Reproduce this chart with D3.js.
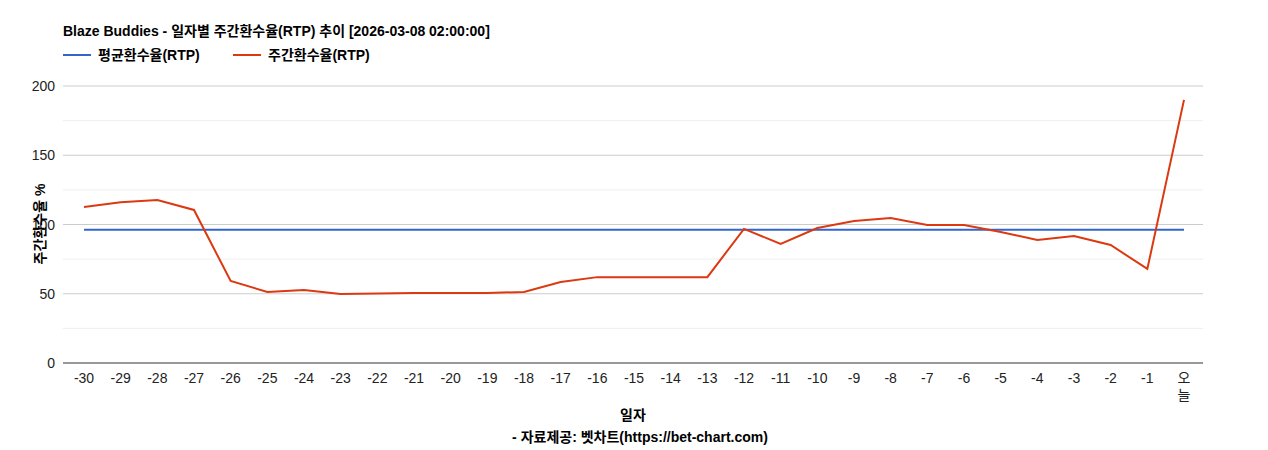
<!DOCTYPE html>
<html><head><meta charset="utf-8">
<script src="https://cdn.jsdelivr.net/npm/d3@7"></script>
<style>body{margin:0;background:#fff}</style>
</head><body><svg id="c" width="1268" height="450"></svg>
<script>
const categories = ["-30","-29","-28","-27","-26","-25","-24","-23","-22","-21","-20","-19","-18","-17","-16","-15","-14","-13","-12","-11","-10","-9","-8","-7","-6","-5","-4","-3","-2","-1","오늘"];
const weeklyRTP = [112.6,116,117.7,110.5,59.2,51.3,52.7,49.8,50.2,50.5,50.5,50.5,51.3,58.5,62,62,62,62,96.8,86,97.5,102.5,104.7,99.6,99.6,94.6,88.8,91.7,85.2,67.9,190];
const avgRTP = categories.map(()=>96.2);
const yTicks = [0,50,100,150,200];
const yMinor = [25,75,125,175];

const svg = d3.select("#c");
const L=63,R=1203,T=86,B=363;
const x = d3.scalePoint().domain(categories).range([84,1184]);
const y = d3.scaleLinear().domain([0,200]).range([B,T]);
const font='"Liberation Sans",Arial,"Noto Sans CJK KR",sans-serif';

svg.selectAll(".mn").data(yMinor).join("line").attr("x1",L).attr("x2",R)
  .attr("y1",d=>y(d)).attr("y2",d=>y(d)).attr("stroke","#eee");
svg.selectAll(".mj").data(yTicks.slice(1)).join("line").attr("x1",L).attr("x2",R)
  .attr("y1",d=>y(d)).attr("y2",d=>y(d)).attr("stroke","#ccc");
svg.append("line").attr("x1",L).attr("x2",R).attr("y1",B).attr("y2",B).attr("stroke","#333");
svg.selectAll(".yt").data(yTicks).join("text").attr("x",L-8).attr("y",d=>y(d)+5)
  .attr("text-anchor","end").attr("font-size",14).attr("fill","#222").attr("font-family",font).text(d=>d);
categories.forEach(c=>{
  const t=svg.append("text").attr("text-anchor","middle").attr("font-size",14).attr("fill","#222").attr("font-family",font);
  if(c==="오늘"){t.append("tspan").attr("x",x(c)).attr("y",383).text("오");t.append("tspan").attr("x",x(c)).attr("y",400).text("늘");}
  else t.attr("x",x(c)).attr("y",383).text(c);
});
const line=d3.line().x((d,i)=>x(categories[i])).y(d=>y(d));
svg.append("path").datum(avgRTP).attr("d",line).attr("fill","none").attr("stroke","#3366cc").attr("stroke-width",2);
svg.append("path").datum(weeklyRTP).attr("d",line).attr("fill","none").attr("stroke","#dc3912").attr("stroke-width",2);

svg.append("text").attr("x",63).attr("y",36).attr("font-size",14).attr("font-weight","bold").attr("font-family",font)
  .text("Blaze Buddies - 일자별 주간환수율(RTP) 추이 [2026-03-08 02:00:00]");
[["평균환수율(RTP)","#3366cc",63],["주간환수율(RTP)","#dc3912",233]].forEach(([t,c,x0])=>{
  svg.append("line").attr("x1",x0).attr("x2",x0+28).attr("y1",55).attr("y2",55).attr("stroke",c).attr("stroke-width",2);
  svg.append("text").attr("x",x0+35).attr("y",60).attr("font-size",14).attr("font-weight","bold").attr("font-family",font).text(t);
});
svg.append("text").attr("x",633).attr("y",420).attr("text-anchor","middle").attr("font-size",14).attr("font-weight","bold").attr("font-family",font).text("일자");
svg.append("text").attr("x",640).attr("y",442).attr("text-anchor","middle").attr("font-size",14).attr("font-weight","bold").attr("font-family",font).text("- 자료제공: 벳차트(https://bet-chart.com)");
svg.append("text").attr("transform","translate(45,224) rotate(-90)").attr("text-anchor","middle").attr("font-size",14).attr("font-weight","bold").attr("font-family",font).text("주간환수율 %");
</script></body></html>
